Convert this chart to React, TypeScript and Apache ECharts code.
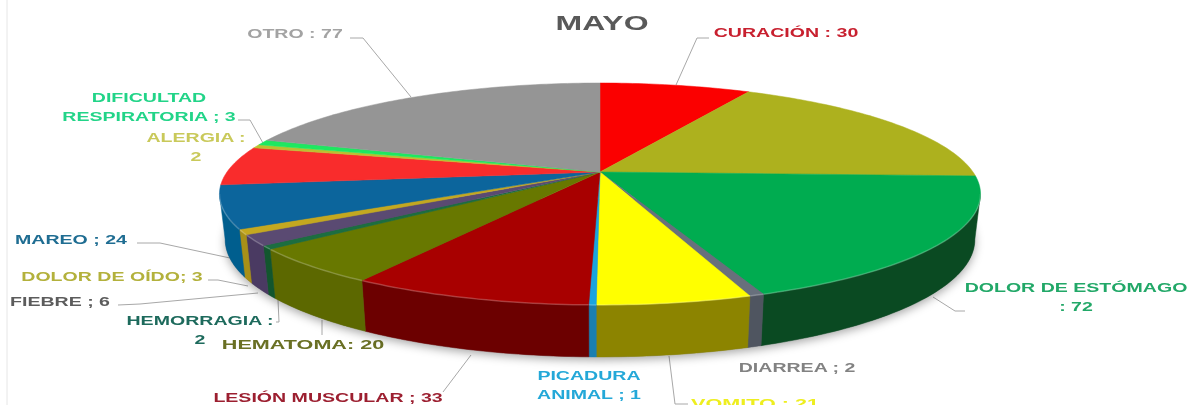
import React, { useEffect, useRef } from "react";
import * as echarts from "echarts";

const titleText = "MAYO";
const categories = ["CURACIÓN", "", "DOLOR DE ESTÓMAGO", "DIARREA", "VOMITO", "PICADURA ANIMAL", "LESIÓN MUSCULAR", "HEMATOMA", "HEMORRAGIA", "FIEBRE", "DOLOR DE OÍDO", "MAREO", "", "ALERGIA", "DIFICULTAD RESPIRATORIA", "OTRO"];
const values = [30, 69, 72, 2, 21, 1, 33, 20, 2, 6, 3, 24, 22, 2, 3, 77];
const topColors = ["#fb0000", "#adb11e", "#00ac50", "#68707c", "#ffff00", "#1aa4de", "#a80000", "#687800", "#1c6e40", "#5a4a72", "#c4a820", "#0c659c", "#f92c2c", "#bcc030", "#1de860", "#959595"];
const sideColors = ["#8a0000", "#60640c", "#0a4a22", "#4f5560", "#8c8400", "#1a7fb0", "#6c0000", "#5c6800", "#12562e", "#4a3a62", "#a89018", "#005e8e", "#a01818", "#8a8c20", "#10a040", "#606060"];

const labels: { lines: string[]; x: number; y: number; color: string; sx?: number; leader?: number[][] }[] = [
  { lines: ["CURACIÓN : 30"], x: 786, y: 33, color: "#c8202f", leader: [[709, 38], [697, 38], [676, 85]] },
  { lines: ["OTRO : 77"], x: 295, y: 34, color: "#a3a3a3", leader: [[350, 38], [363, 38], [411, 97]] },
  { lines: ["DIFICULTAD", "RESPIRATORIA ; 3"], x: 149, y: 98, color: "#22d488", leader: [[238, 120], [250, 120], [263, 143]] },
  { lines: ["ALERGIA :", "2"], x: 196, y: 138, color: "#c9c95a" },
  { lines: ["MAREO ; 24"], x: 71, y: 240, color: "#1f6d92", leader: [[137, 243], [160, 243], [230, 258]] },
  { lines: ["DOLOR DE OÍDO; 3"], x: 112, y: 277, color: "#b3b13c", leader: [[208, 280], [218, 280], [248, 286]] },
  { lines: ["FIEBRE ; 6"], x: 60, y: 302, color: "#5c5c5c", leader: [[118, 305], [140, 304], [258, 293]] },
  { lines: ["HEMORRAGIA :", "2"], x: 200, y: 321, color: "#1d6a5c", leader: [[276, 322], [279, 322], [278, 300]] },
  { lines: ["HEMATOMA: 20"], x: 303, y: 345, color: "#6a7024", sx: 1.6, leader: [[322, 335], [322, 320]] },
  { lines: ["LESIÓN MUSCULAR ; 33"], x: 328, y: 398, color: "#9c1f30", leader: [[443, 392], [471, 355]] },
  { lines: ["PICADURA", "ANIMAL ; 1"], x: 589, y: 376, color: "#24a8d8" },
  { lines: ["VOMITO : 21"], x: 755, y: 404, color: "#eeee20", sx: 1.6, leader: [[669, 356], [675, 404], [688, 404]] },
  { lines: ["DIARREA ; 2"], x: 797, y: 368, color: "#828282" },
  { lines: ["DOLOR DE ESTÓMAGO", ": 72"], x: 1076, y: 288, color: "#22a868", leader: [[933, 297], [955, 311], [965, 311]] },
];

const CX = 600, CY = 172, A = 106.6, B = 373, K = 0.198;
const rad = (d: number) => (d * Math.PI) / 180;
const topPt = (deg: number) => {
  const s = Math.sin(rad(deg)), c = Math.cos(rad(deg));
  const w = 1 + K * c;
  return [CX + (B * s) / w, CY - (A * c) / w];
};
const botPt = (deg: number) => {
  const p = topPt(deg);
  const c = Math.cos(rad(deg));
  return [CX + (p[0] - CX) * 0.985, p[1] + 44 - 8 * c];
};
const sample = (a: number, b: number, f: (d: number) => number[]) => {
  const pts: number[][] = [];
  const n = Math.max(2, Math.ceil(b - a));
  for (let i = 0; i <= n; i++) pts.push(f(a + ((b - a) * i) / n));
  return pts;
};
const VIS_A = 101.4, VIS_B = 258.6;

export default function App() {
  const ref = useRef<HTMLDivElement>(null);
  useEffect(() => {
    document.body.style.margin = "0";
    const chart = echarts.init(ref.current!, undefined, { renderer: "svg" });
    const total = values.reduce((a, b) => a + b, 0);
    let acc = 0;
    const rows = values.map((v, i) => {
      const start = (acc / total) * 360;
      acc += v;
      return { name: categories[i], value: [v, start, (acc / total) * 360, i] };
    });
    const graphicEls: any[] = [
      { type: "line", shape: { x1: 7, y1: 0, x2: 7, y2: 405 }, style: { stroke: "#e6e6e6", lineWidth: 1 } },
      {
        type: "text", x: 602, y: 23, scaleX: 1.6,
        style: { text: titleText, fill: "#595959", font: "bold 20px 'Liberation Sans'", textAlign: "center", textVerticalAlign: "middle" },
      },
    ];
    labels.forEach((l) => {
      l.lines.forEach((line, i) => {
        graphicEls.push({
          type: "text", x: l.x, y: l.y + i * 19, scaleX: l.sx ?? 1.45,
          style: { text: line, fill: l.color, font: "bold 13.5px 'Liberation Sans'", textAlign: "center", textVerticalAlign: "middle" },
        });
      });
      if (l.leader) graphicEls.push({ type: "polyline", shape: { points: l.leader }, style: { stroke: "#a8a8a8", lineWidth: 1, fill: "none" } });
    });
    chart.setOption({
      animation: false,
      graphic: graphicEls,
      series: [
        {
          type: "custom", coordinateSystem: "none", z: 1, silent: true, data: [[0]],
          renderItem: () => ({
            type: "polygon",
            shape: { points: sample(VIS_A - 20, VIS_B + 20, botPt) },
            style: { fill: "#777", shadowBlur: 10, shadowColor: "rgba(0,0,0,0.35)", shadowOffsetY: 3 },
          }),
        },
        {
          type: "custom", coordinateSystem: "none", z: 2, silent: true, data: rows,
          renderItem: (_p: any, api: any) => {
            const a = api.value(1), b = api.value(2), i = api.value(3);
            const children: any[] = [];
            const sa = Math.max(a, VIS_A), sb = Math.min(b, VIS_B);
            if (sb > sa) {
              const t = sample(sa, sb, topPt), bt = sample(sa, sb, botPt).reverse();
              children.push({ type: "polygon", shape: { points: [...t, ...bt] }, style: { fill: sideColors[i], stroke: sideColors[i], lineWidth: 0.5 } });
            }
            children.push({
              type: "polygon",
              shape: { points: [[CX, CY], ...sample(a, b, topPt)] },
              style: { fill: topColors[i], stroke: topColors[i], lineWidth: 0.5 },
            });
            if (sb > sa) {
              children.push({
                type: "polyline",
                shape: { points: sample(sa, sb, topPt) },
                style: { stroke: "rgba(255,255,255,0.22)", lineWidth: 1.5, fill: "none" },
              });
            }
            return { type: "group", children };
          },
        },
      ],
    });
    return () => chart.dispose();
  }, []);
  return <div ref={ref} style={{ width: 1188, height: 405, background: "#fff", filter: "blur(0.7px)" }} />;
}
